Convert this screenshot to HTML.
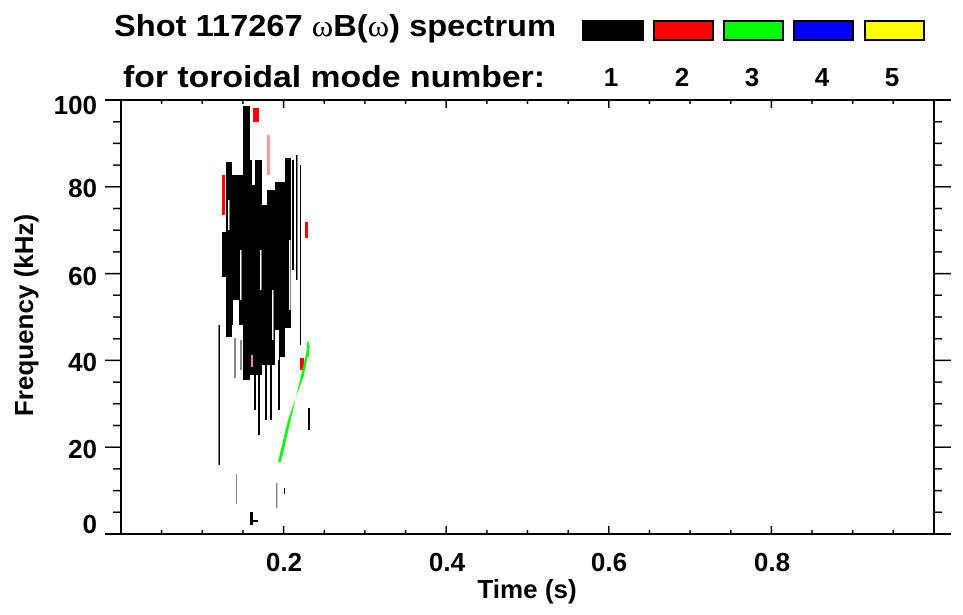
<!DOCTYPE html>
<html><head><meta charset="utf-8"><style>
html,body{margin:0;padding:0;background:#fff;}
svg{display:block;font-family:"Liberation Sans",sans-serif;font-weight:bold;}
</style></head><body>
<svg width="963" height="615" viewBox="0 0 963 615" xmlns="http://www.w3.org/2000/svg">
<!-- title -->
<text x="114" y="36" font-size="31" textLength="442" lengthAdjust="spacingAndGlyphs">Shot 117267 <tspan font-family="Liberation Serif" font-weight="normal">ω</tspan>B(<tspan font-family="Liberation Serif" font-weight="normal">ω</tspan>) spectrum</text>
<text x="123" y="87" font-size="31" textLength="422" lengthAdjust="spacingAndGlyphs">for toroidal mode number:</text>
<!-- legend -->
<g stroke="#000" stroke-width="2">
<rect x="583" y="21" width="60" height="19" fill="#000"/>
<rect x="654" y="21" width="59" height="19" fill="#f00"/>
<rect x="724" y="21" width="59" height="19" fill="#0f0"/>
<rect x="794" y="21" width="59" height="19" fill="#00f"/>
<rect x="865" y="21" width="59" height="19" fill="#ff0"/>
</g>
<g font-size="26" text-anchor="middle">
<text x="611" y="86">1</text><text x="682" y="86">2</text><text x="752" y="86">3</text><text x="822" y="86">4</text><text x="892" y="86">5</text>
</g>
<!-- data -->
<g fill="#000">
<rect x="222" y="232" width="5" height="45"/>
<rect x="226" y="162" width="6" height="175"/>
<rect x="232" y="175" width="11" height="150"/>
<rect x="243" y="106" width="7" height="274"/>
<rect x="250" y="160" width="12" height="215"/>
<rect x="262" y="190" width="13" height="175"/>
<rect x="275" y="182" width="10" height="175"/>
<rect x="285" y="158" width="6" height="170"/>
<rect x="292" y="160" width="2" height="110"/>
<rect x="296" y="155" width="1.5" height="125"/>
<rect x="300" y="165" width="1" height="180"/>
<rect x="218.5" y="325" width="1.5" height="140"/>
<rect x="254" y="360" width="2" height="50"/>
<rect x="258" y="375" width="2" height="60"/>
<rect x="265" y="365" width="2" height="55"/>
<rect x="270" y="360" width="2" height="60"/>
<rect x="278" y="355" width="2" height="55"/>
<rect x="308" y="408" width="2" height="22"/>
<rect x="250" y="512" width="3" height="13"/>
<rect x="253" y="520" width="5" height="2"/>
<rect x="284" y="488" width="1" height="6"/>
<rect x="236" y="474" width="1" height="30" fill="#888"/>
<rect x="276" y="483" width="1.5" height="25" fill="#888"/>
<rect x="234" y="338" width="2" height="40" fill="#888"/>
<rect x="240" y="340" width="2" height="30" fill="#888"/>
</g>
<g fill="#fff">
<rect x="228" y="200" width="1.5" height="30"/>
<rect x="240" y="250" width="1.5" height="50"/>
<rect x="260" y="250" width="1.5" height="40"/>
<rect x="272" y="290" width="1.5" height="50"/>
<rect x="289" y="240" width="1.5" height="70"/>
<rect x="252" y="160" width="3" height="25"/>
<rect x="262" y="190" width="5" height="15"/>
<rect x="275" y="330" width="4" height="30"/>
<rect x="233" y="300" width="6" height="25"/>
</g>
<g>
<rect x="222" y="175" width="3" height="40" fill="#f00"/>
<rect x="305" y="222" width="3" height="16" fill="#f00"/>
<rect x="253" y="108" width="6" height="14" fill="#f00"/>
<rect x="267" y="135" width="3" height="40" fill="#f99"/>
<rect x="300" y="358" width="4" height="12" fill="#f00"/>
<rect x="251" y="355" width="2" height="12" fill="#f88"/>
<polygon points="278,462 281,462 300,380 308,345 310,345 304,375 288,420" fill="#0f0"/>
<rect x="307" y="342" width="2" height="15" fill="#0f0"/>
</g>
<!-- axes -->
<g stroke="#000" stroke-width="2" fill="none">
<line x1="105" y1="100" x2="951" y2="100"/>
<line x1="105" y1="534" x2="951" y2="534"/>
<line x1="121" y1="100" x2="121" y2="534"/>
<line x1="934" y1="100" x2="934" y2="534"/>
</g>
<g stroke="#000" stroke-width="1.5">
<path d="M283.6 534v-8M446.2 534v-8M608.8 534v-8M771.4 534v-8M283.6 100v8M446.2 100v8M608.8 100v8M771.4 100v8"/>
<path d="M161.6 534v-4M202.3 534v-4M242.9 534v-4M324.3 534v-4M364.9 534v-4M405.6 534v-4M486.9 534v-4M527.5 534v-4M568.2 534v-4M649.5 534v-4M690.1 534v-4M730.8 534v-4M812 534v-4M852.7 534v-4M893.3 534v-4
M161.6 100v4M202.3 100v4M242.9 100v4M324.3 100v4M364.9 100v4M405.6 100v4M486.9 100v4M527.5 100v4M568.2 100v4M649.5 100v4M690.1 100v4M730.8 100v4M812 100v4M852.7 100v4M893.3 100v4"/>
<path d="M105 186.8h16M105 273.6h16M105 360.4h16M105 447.2h16M934 186.8h17M934 273.6h17M934 360.4h17M934 447.2h17"/>
<path d="M113 121.7h8M113 143.4h8M113 165.1h8M113 208.5h8M113 230.2h8M113 251.9h8M113 295.3h8M113 317h8M113 338.7h8M113 382.1h8M113 403.8h8M113 425.5h8M113 468.9h8M113 490.6h8M113 512.3h8
M934 121.7h8M934 143.4h8M934 165.1h8M934 208.5h8M934 230.2h8M934 251.9h8M934 295.3h8M934 317h8M934 338.7h8M934 382.1h8M934 403.8h8M934 425.5h8M934 468.9h8M934 490.6h8M934 512.3h8"/>
</g>
<!-- tick labels -->
<g font-size="26" text-anchor="end">
<text x="97" y="114">100</text>
<text x="97" y="197">80</text>
<text x="97" y="285">60</text>
<text x="97" y="371">40</text>
<text x="97" y="458">20</text>
<text x="97" y="533">0</text>
</g>
<g font-size="26" text-anchor="middle">
<text x="284" y="571">0.2</text>
<text x="447" y="571">0.4</text>
<text x="609" y="571">0.6</text>
<text x="772" y="571">0.8</text>
<text x="527" y="598">Time (s)</text>
</g>
<text transform="translate(33,315) rotate(-90)" font-size="26" text-anchor="middle">Frequency (kHz)</text>
</svg>
</body></html>
